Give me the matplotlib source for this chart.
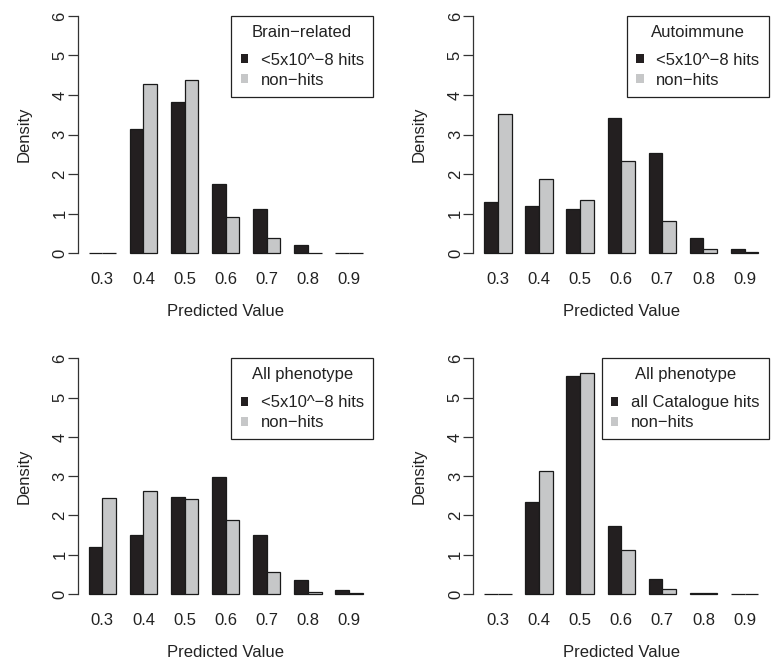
import numpy as np
import matplotlib
matplotlib.use('Agg')
import matplotlib.pyplot as plt
from matplotlib.patches import Patch

plt.rcParams['font.family'] = ['Liberation Sans', 'DejaVu Sans']

bins = ['0.3', '0.4', '0.5', '0.6', '0.7', '0.8', '0.9']

brain_hits = [0.0, 3.13, 3.82, 1.74, 1.12, 0.21, 0.0]
brain_non = [0.0, 4.29, 4.39, 0.91, 0.37, 0.01, 0.0]
auto_hits = [1.28, 1.20, 1.12, 3.41, 2.52, 0.39, 0.09]
auto_non = [3.52, 1.88, 1.34, 2.32, 0.82, 0.09, 0.03]
all_hits = [1.20, 1.50, 2.48, 2.97, 1.49, 0.35, 0.10]
all_non = [2.45, 2.63, 2.42, 1.88, 0.57, 0.05, 0.02]
cat_hits = [0.0, 2.34, 5.56, 1.73, 0.38, 0.02, 0.0]
cat_non = [0.0, 3.14, 5.62, 1.13, 0.12, 0.015, 0.0]

titles = ['Brain\u2212related', 'Autoimmune', 'All phenotype', 'All phenotype']
hit_labels = ['<5x10^\u22128 hits', '<5x10^\u22128 hits', '<5x10^\u22128 hits',
              'all Catalogue hits']
non_label = 'non\u2212hits'

panels = [(brain_hits, brain_non), (auto_hits, auto_non),
          (all_hits, all_non), (cat_hits, cat_non)]

dark = '#231f20'
light = '#c6c7c8'
txt = '#222222'
fs = 12

W, H = 771, 660
fig = plt.figure(figsize=(W / 100, H / 100), dpi=100)

# pixel boxes (left, top, height) of each plot region
boxes = [(77.7, 6.5, 256.0), (473.3, 6.5, 256.0),
         (77.7, 348.9, 254.5), (473.3, 348.9, 254.5)]
pw = 295.9

for k, ((hits, non), (lx, ty, ph)) in enumerate(zip(panels, boxes)):
    ax = fig.add_axes([lx / W, 1 - (ty + ph) / H, pw / W, ph / H])
    n = len(bins)
    idx = np.arange(n)
    left = 1 + 3 * idx
    ax.bar(left + 0.5, hits, width=1, color=dark, edgecolor='#1a1a1a', linewidth=0.9)
    ax.bar(left + 1.5, non, width=1, color=light, edgecolor='#1a1a1a', linewidth=0.9)
    ax.set_xlim(0.2, 21.8)
    ax.set_ylim(-0.24, 6.24)

    for s in ['top', 'right', 'bottom']:
        ax.spines[s].set_visible(False)
    ax.spines['left'].set_bounds(0, 6)
    ax.spines['left'].set_color('#333333')
    ax.spines['left'].set_linewidth(0.9)

    ax.set_yticks(range(7))
    ax.set_yticklabels([str(v) for v in range(7)], rotation=90, va='center')
    ax.tick_params(axis='y', length=7, width=0.9, color='#333333', pad=0.5,
                   labelsize=fs, labelcolor=txt)
    ax.set_xticks(left + 1)
    ax.set_xticklabels(bins)
    ax.tick_params(axis='x', length=0, pad=7, labelsize=fs, labelcolor=txt)

    ax.set_xlabel('Predicted Value', fontsize=fs, color=txt, labelpad=12)
    ax.set_ylabel('Density', fontsize=fs, color=txt, labelpad=15)

    handles = [Patch(facecolor=dark, edgecolor='none'),
               Patch(facecolor=light, edgecolor='none')]
    leg = ax.legend(handles, [hit_labels[k], non_label], title=titles[k],
                    loc='upper right', bbox_to_anchor=(21.75, 6.0),
                    bbox_transform=ax.transData,
                    fontsize=fs, title_fontsize=fs, fancybox=False,
                    framealpha=1, edgecolor=txt, borderaxespad=0,
                    handlelength=0.45, handleheight=0.45, handletextpad=0.75,
                    labelspacing=0.3, borderpad=0.55)
    leg._legend_box.sep = 9
    leg.get_frame().set_linewidth(0.9)
    leg.get_title().set_color(txt)
    for t in leg.get_texts():
        t.set_color(txt)

fig.savefig('out.png', dpi=100)
